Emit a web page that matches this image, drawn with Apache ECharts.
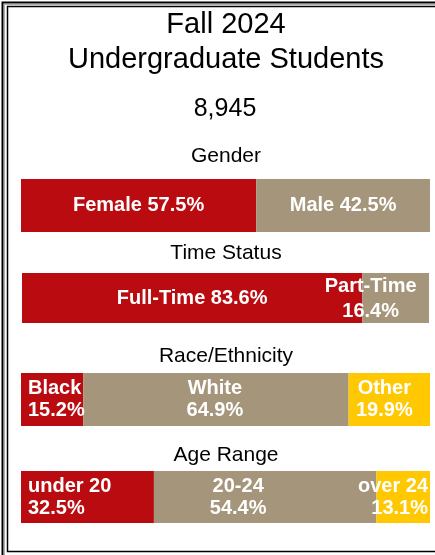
<!DOCTYPE html>
<html>
<head>
<meta charset="utf-8">
<script src="https://cdn.jsdelivr.net/npm/echarts@6/dist/echarts.min.js"></script>
<style>
html,body{margin:0;padding:0;background:#fff;}
#chart{width:435px;height:555px;}
</style>
</head>
<body>
<div id="chart"></div>
<script>
// ---- Data ----
const titleLines = ['Fall 2024', 'Undergraduate Students'];
const totalStudents = '8,945';
const groupTitles = ['Gender', 'Time Status', 'Race/Ethnicity', 'Age Range'];

const genderCats = ['Female', 'Male'];
const genderVals = [57.5, 42.5];
const timeCats = ['Full-Time', 'Part-Time'];
const timeVals = [83.6, 16.4];
const raceCats = ['Black', 'White', 'Other'];
const raceVals = [15.2, 64.9, 19.9];
const ageCats = ['under 20', '20-24', 'over 24'];
const ageVals = [32.5, 54.4, 13.1];

// ---- Styles / layout ----
const RED = '#BA0C10', TAN = '#A5967B', GOLD = '#FFC800';
const FONT = "'Liberation Sans', Arial, sans-serif";

const rows = [
  { cats: genderCats, vals: genderVals, colors: [RED, TAN], twoLine: [false, false],
    grid: { left: 21, top: 179, width: 409, height: 53 },
    labels: [{ position: 'inside' }, { position: 'inside' }] },
  { cats: timeCats, vals: timeVals, colors: [RED, TAN], twoLine: [false, true],
    grid: { left: 22, top: 273, width: 407, height: 50 },
    labels: [{ position: 'inside' }, { position: 'inside', offset: [-25, 1], lineHeight: 25 }] },
  { cats: raceCats, vals: raceVals, colors: [RED, TAN, GOLD], twoLine: [true, true, true],
    grid: { left: 21, top: 373, width: 409, height: 53 },
    labels: [{ position: 'insideLeft', distance: 7 }, { position: 'inside', offset: [-1, 0] }, { position: 'inside', offset: [-5, 0] }] },
  { cats: ageCats, vals: ageVals, colors: [RED, TAN, GOLD], twoLine: [true, true, true],
    grid: { left: 21, top: 471, width: 409, height: 52 },
    labels: [{ position: 'insideLeft', distance: 7 }, { position: 'inside', offset: [-27, 0] }, { position: 'insideRight', distance: 2 }] }
];

const grids = [], xAxes = [], yAxes = [], series = [];
rows.forEach((row, gi) => {
  grids.push(Object.assign({ containLabel: false }, row.grid));
  xAxes.push({ type: 'value', gridIndex: gi, min: 0, max: 100, show: false });
  yAxes.push({ type: 'category', gridIndex: gi, data: [groupTitles[gi]], show: false });
  row.cats.forEach((cat, i) => {
    const lc = row.labels[i];
    series.push({
      type: 'bar',
      name: cat,
      xAxisIndex: gi,
      yAxisIndex: gi,
      stack: 'row' + gi,
      barWidth: '100%',
      silent: true,
      data: [row.vals[i]],
      itemStyle: { color: row.colors[i] },
      label: Object.assign({
        show: true,
        color: '#fff',
        fontFamily: FONT,
        fontWeight: 'bold',
        fontSize: 20,
        lineHeight: 22,
        formatter: (p) => row.twoLine[i]
          ? cat + '\n' + p.value.toFixed(1) + '%'
          : cat + ' ' + p.value.toFixed(1) + '%'
      }, lc)
    });
  });
});

function txt(text, x, y, size) {
  return {
    type: 'text', x: x, y: y, silent: true,
    style: { text: text, fill: '#000', font: size + 'px ' + FONT, align: 'center', verticalAlign: 'middle' }
  };
}

const graphics = [
  { type: 'rect', silent: true, shape: { x: 2.5, y: 2.5, width: 520, height: 620 }, style: { fill: 'none', stroke: '#000', lineWidth: 2 } },
  { type: 'rect', silent: true, shape: { x: 4.5, y: 4.5, width: 520, height: 620 }, style: { fill: 'none', stroke: '#aaa', lineWidth: 1 } },
  { type: 'rect', silent: true, shape: { x: 7.5, y: 6.5, width: 520, height: 545 }, style: { fill: 'none', stroke: '#000', lineWidth: 1.5 } },
  txt(titleLines[0], 226, 25, 29),
  txt(titleLines[1], 226, 60, 29),
  txt(totalStudents, 225, 109, 25),
  txt(groupTitles[0], 226, 156, 21),
  txt(groupTitles[1], 226, 253, 21),
  txt(groupTitles[2], 226, 356, 21),
  txt(groupTitles[3], 226, 455, 21)
];

const chart = echarts.init(document.getElementById('chart'), null, { renderer: 'canvas' });
chart.setOption({
  animation: false,
  backgroundColor: '#fff',
  grid: grids,
  xAxis: xAxes,
  yAxis: yAxes,
  series: series,
  graphic: graphics
});
</script>
</body>
</html>
